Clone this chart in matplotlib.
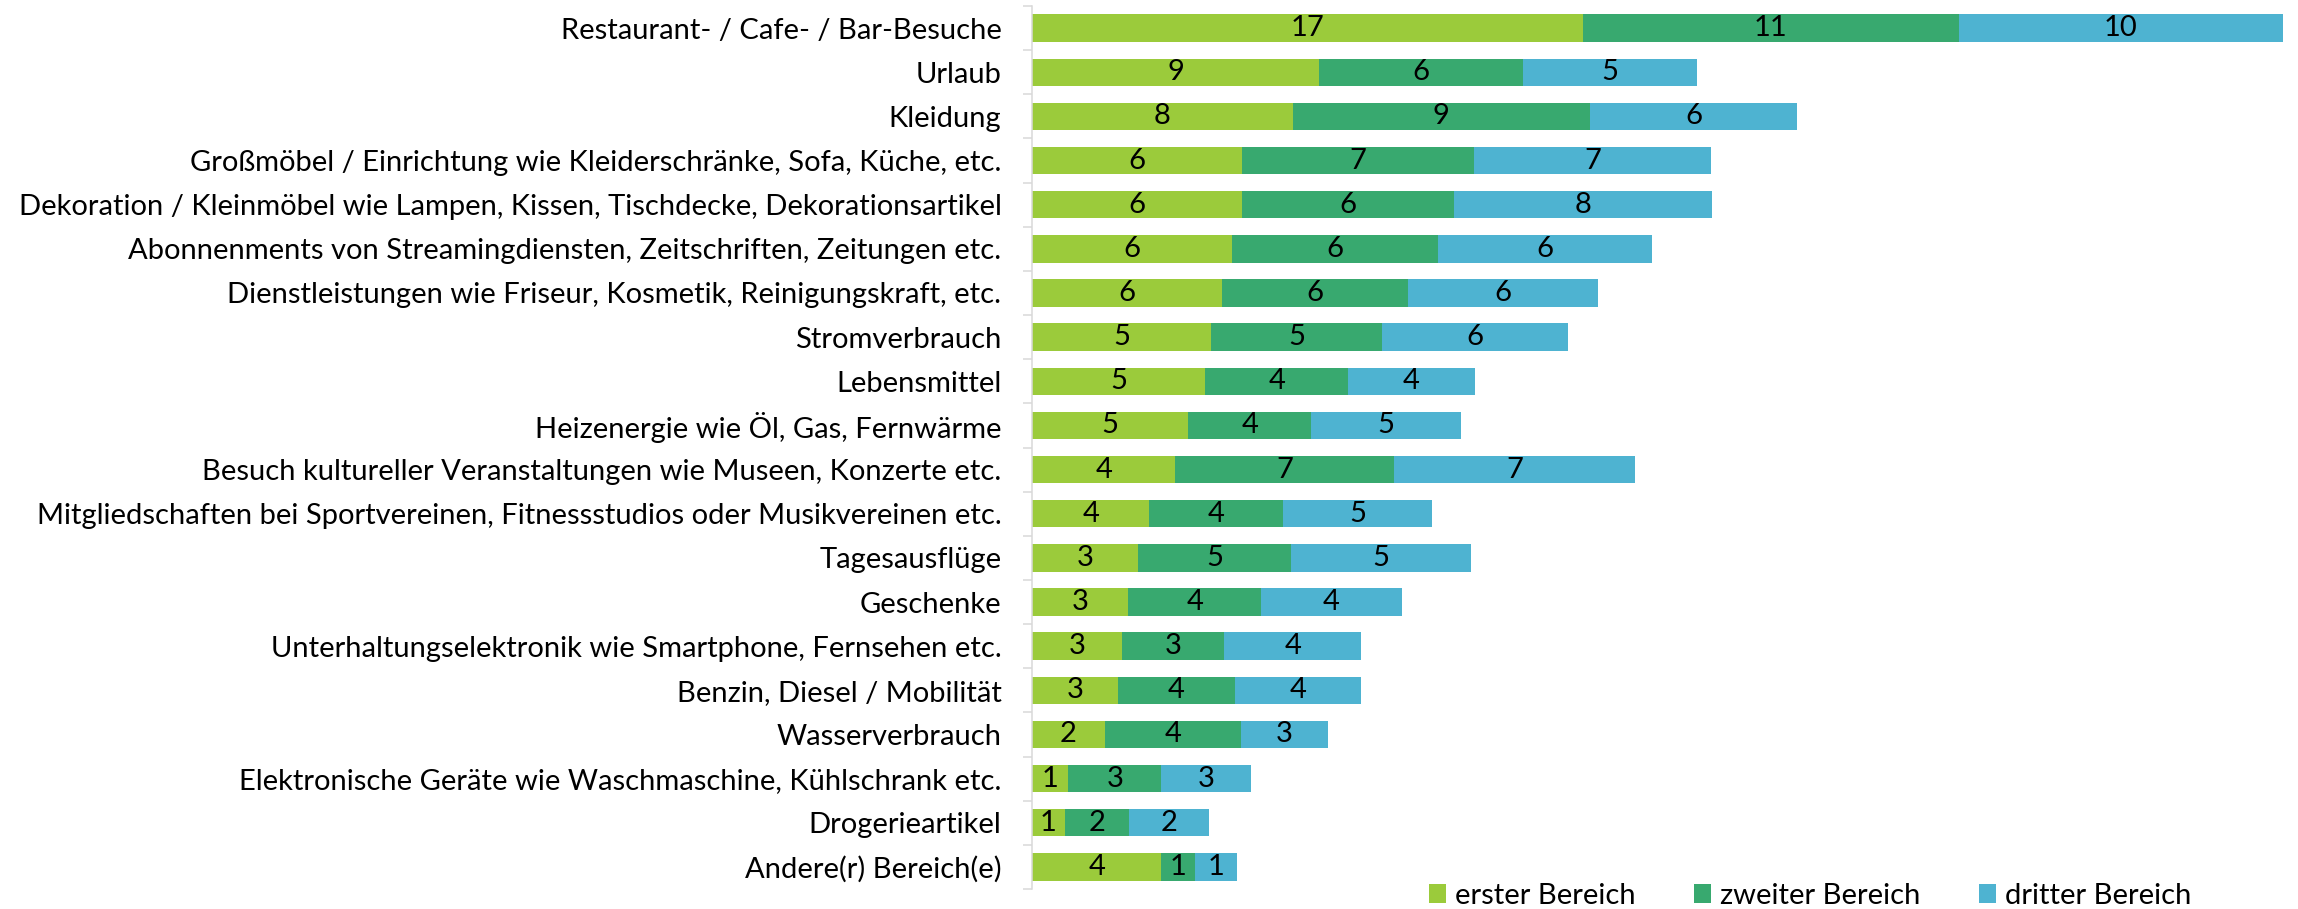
import numpy as np
import matplotlib.pyplot as plt

# Kategorien von oben nach unten
bereiche = ['Restaurant- / Cafe- / Bar-Besuche',
            'Urlaub',
            'Kleidung',
            'Großmöbel / Einrichtung wie Kleiderschränke, Sofa, Küche, etc.',
            'Dekoration / Kleinmöbel wie Lampen, Kissen, Tischdecke, Dekorationsartikel',
            'Abonnenments von Streamingdiensten, Zeitschriften, Zeitungen etc.',
            'Dienstleistungen wie Friseur, Kosmetik, Reinigungskraft, etc.',
            'Stromverbrauch',
            'Lebensmittel',
            'Heizenergie wie Öl, Gas, Fernwärme',
            'Besuch kultureller Veranstaltungen wie Museen, Konzerte etc.',
            'Mitgliedschaften bei Sportvereinen, Fitnessstudios oder Musikvereinen etc.',
            'Tagesausflüge',
            'Geschenke',
            'Unterhaltungselektronik wie Smartphone, Fernsehen etc.',
            'Benzin, Diesel / Mobilität',
            'Wasserverbrauch',
            'Elektronische Geräte wie Waschmaschine, Kühlschrank etc.',
            'Drogerieartikel',
            'Andere(r) Bereich(e)']

erster = [16.65, 8.68, 7.88, 6.33, 6.33, 6.04, 5.75, 5.42, 5.24, 4.71,
          4.33, 3.55, 3.20, 2.91, 2.71, 2.60, 2.20, 1.09, 0.99, 3.91]
zweiter = [11.35, 6.15, 8.98, 7.03, 6.43, 6.22, 5.62, 5.15, 4.31, 3.73,
           6.61, 4.02, 4.62, 4.02, 3.10, 3.53, 4.11, 2.82, 1.93, 1.00]
dritter = [9.80, 5.25, 6.25, 7.16, 7.77, 6.46, 5.73, 5.62, 3.82, 4.53,
           7.27, 4.53, 5.45, 4.24, 4.14, 3.82, 2.63, 2.71, 2.42, 1.29]

serien = ['erster Bereich', 'zweiter Bereich', 'dritter Bereich']
farben = ['#9BCB3B', '#38A96F', '#4EB3D1']

plt.rcParams['font.family'] = ['Lato', 'DejaVu Sans']
schrift = 21

fig = plt.figure(figsize=(22.98, 9.09), dpi=100)
ax = fig.add_axes([1032 / 2298, 20 / 909, 1 - 1032 / 2298, 883 / 909])

y = np.arange(len(bereiche))
links = np.zeros(len(bereiche))
for werte, name, farbe in zip([erster, zweiter, dritter], serien, farben):
    balken = ax.barh(y, werte, left=links, height=0.62, color=farbe, label=name)
    ax.bar_label(balken, fmt='{:.0f}', label_type='center', fontsize=schrift,
                 color='black')
    links = links + np.array(werte)

ax.set_xlim(0, 38.25)
ax.set_ylim(len(bereiche) - 0.5, -0.5)
ax.set_yticks(y)
ax.set_yticklabels(bereiche, fontsize=schrift)
ax.set_yticks(np.arange(-0.5, len(bereiche)), minor=True)
ax.tick_params(axis='y', which='major', length=0, pad=22)
ax.tick_params(axis='y', which='minor', length=6.5, width=1.1, color='#D9D9D9')
ax.xaxis.set_visible(False)
for s in ['top', 'right', 'bottom']:
    ax.spines[s].set_visible(False)
ax.spines['left'].set_color('#D9D9D9')
ax.spines['left'].set_linewidth(1.1)

fig.legend(loc='center left', bbox_to_anchor=(1429 / 2298, 1 - 896 / 909),
           ncol=3, frameon=False, fontsize=schrift, handlelength=0.58,
           handleheight=0.62, handletextpad=0.31, columnspacing=2.0,
           borderaxespad=0, borderpad=0)

fig.savefig('out.png', dpi=100)
